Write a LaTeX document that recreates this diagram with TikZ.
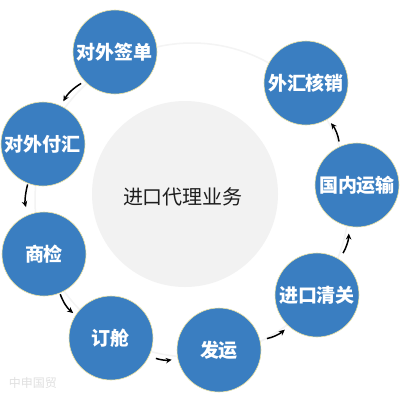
\documentclass[tikz,border=0pt]{standalone}
\usepackage{fontspec}
\newfontfamily\cjk{Noto Sans CJK SC}
\usetikzlibrary{arrows.meta}
\definecolor{nodeblue}{RGB}{58,126,193}
\definecolor{ringgray}{RGB}{244,244,244}
\definecolor{centergray}{RGB}{242,242,242}
\definecolor{rimyellow}{RGB}{236,226,160}
\definecolor{titlegray}{RGB}{30,30,30}
\begin{document}
\begin{tikzpicture}[x=1pt,y=1pt,
  stepnode/.style={circle, fill=nodeblue, draw=rimyellow, line width=0.6pt,
    minimum size=84pt, inner sep=0pt, text=white,
    font=\cjk\bfseries\fontsize{19}{19}\selectfont},
  flowarrow/.style={-{Stealth[length=6pt,width=5.5pt]}, line width=1.5pt, black}]
\fill[white] (0,0) rectangle (400,-400);
\useasboundingbox (0,0) rectangle (400,-400);
% faint ring
\draw[ringgray, line width=1.5pt] (192,-200) circle (157);
% centre
\node[circle, fill=centergray, minimum size=186pt, inner sep=0pt] (core) at (185,-194) {};
\node[text=titlegray, font=\cjk\fontsize{20}{20}\selectfont] (title) at (183,-197) {进口代理业务};
% steps
\node[stepnode] (A) at (115,-52) {对外签单};
\node[stepnode] (B) at (43,-144) {对外付汇};
\node[stepnode] (C) at (44,-254) {商检};
\node[stepnode] (D) at (111,-338) {订舱};
\node[stepnode] (E) at (219,-350) {发运};
\node[stepnode] (F) at (317,-295) {进口清关};
\node[stepnode] (G) at (357,-185) {国内运输};
\node[stepnode] (H) at (306,-83) {外汇核销};
% arrows
\draw[flowarrow, shorten <=4pt, shorten >=5pt] (A.-136) to[bend right=15] (B.65);
\draw[flowarrow, shorten <=1pt, shorten >=8pt] (B.-111) to[bend right=15] (C.112);
\draw[flowarrow, shorten <=1pt, shorten >=3pt] (C.-68) to[bend right=15] (D.147);
\draw[flowarrow, shorten <=7pt, shorten >=6pt] (D.-25) to[bend right=15] (E.-168);
\draw[flowarrow, shorten <=7pt, shorten >=5pt] (E.14) to[bend right=15] (F.-132);
\draw[flowarrow, shorten <=7pt, shorten >=7pt] (F.58) to[bend right=15] (G.-101);
\draw[flowarrow, shorten <=5pt, shorten >=5pt] (G.114) to[bend right=15] (H.-59);
% watermark
\node[text=black!12, font=\cjk\fontsize{12}{12}\selectfont] (wm) at (33,-383) {中申国贸};
\end{tikzpicture}
\end{document}
